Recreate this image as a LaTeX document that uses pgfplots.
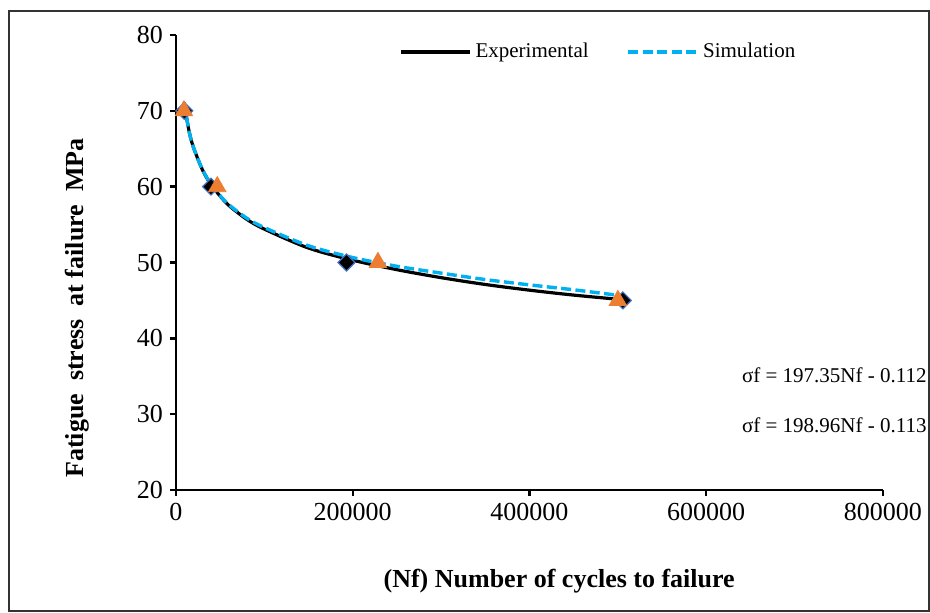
\documentclass[border=0pt]{standalone}
\usepackage{fontspec}
\setmainfont{Liberation Serif}
\usepackage{pgfplots}
\pgfplotsset{compat=1.18}
\definecolor{simblue}{HTML}{00B0F0}
\definecolor{triorange}{HTML}{ED7D31}
\definecolor{diaedge}{HTML}{4472C4}
\begin{document}
\begin{tikzpicture}
\begin{axis}[name=ax, scale only axis, width=353.5pt, height=227.5pt,
  xmin=0, xmax=800000, ymin=20, ymax=80,
  axis lines=left, axis line style={line width=1.2pt,-},
  xtick={0,200000,...,800000}, ytick={20,30,...,80},
  tick align=outside, major tick length=3pt, tick style={line width=1.2pt,black},
  scaled x ticks=false,
  /pgf/number format/fixed,
  /pgf/number format/1000 sep={},
  /pgf/number format/assume math mode=true,
  ticklabel style={font=\fontsize{13}{15}\selectfont},
  label style={font=\fontsize{13}{15}\selectfont\bfseries},
  xlabel={(Nf) Number of cycles to failure},
  ylabel={Fatigue\ \ stress\ \ at failure\ \ MPa},
  xlabel style={at={(axis description cs:0.542,-0.215)},anchor=base},
  ylabel style={at={(axis description cs:-0.1315,0.40)},anchor=base},
  legend style={draw=none, fill=none, inner sep=0pt, at={(0.3154,0.9626)}, anchor=west,
    legend columns=2, font=\fontsize{10.5}{12}\selectfont,
    /tikz/every even column/.append style={column sep=17pt}},
  legend image code/.code={\draw[#1] (0pt,0pt) -- (34.5pt,0pt);},
  clip=false,
]
% markers first, trend lines drawn over them
\addplot[only marks, mark=square*, mark size=3pt,
  mark options={rotate=45, fill=black, draw=diaedge, line width=0.6pt}, forget plot]
  coordinates {(9400,70) (39600,60) (193000,50) (505600,45)};
\addplot[only marks, mark=triangle*, mark size=5pt,
  mark options={fill=triorange, draw=triorange}, forget plot]
  coordinates {(9000,70) (46700,60) (228500,50) (500000,45)};

\addplot[black, line width=1.6pt, smooth] coordinates {
(9000,71.1) (15000,67.2) (20000,65.1) (30000,62.2) (40000,60.2) (50000,58.75)
(60000,57.5) (80000,55.7) (100000,54.4) (150000,51.9) (200000,50.3) (250000,49.05)
(300000,48.0) (350000,47.1) (400000,46.35) (450000,45.7) (505000,45.1)};
\addlegendentry{Experimental}
\addplot[simblue, line width=1.7pt, dash pattern=on 5pt off 2.2pt, smooth] coordinates {
(9000,71.1) (15000,67.2) (20000,65.1) (30000,62.25) (40000,60.25) (50000,58.8)
(60000,57.6) (80000,55.85) (100000,54.6) (150000,52.2) (200000,50.65) (250000,49.5)
(300000,48.6) (350000,47.75) (400000,47.05) (450000,46.4) (505000,45.6)};
\addlegendentry{Simulation}

\node[anchor=east, inner sep=0pt, font=\fontsize{10.5}{12}\selectfont]
  at (axis description cs:1.0622,0.2527) {σf = 197.35Nf - 0.112};
\node[anchor=east, inner sep=0pt, font=\fontsize{10.5}{12}\selectfont]
  at (axis description cs:1.0622,0.1429) {σf = 198.96Nf - 0.113};
\end{axis}
\path ([shift={(-88pt,-61.5pt)}]ax.south west) rectangle ([shift={(377pt,245pt)}]ax.south west);
\draw[black!80, line width=0.8pt] ([shift={(-83.5pt,-60.5pt)}]ax.south west)
  rectangle ([shift={(376.5pt,239.5pt)}]ax.south west);
\end{tikzpicture}
\end{document}
